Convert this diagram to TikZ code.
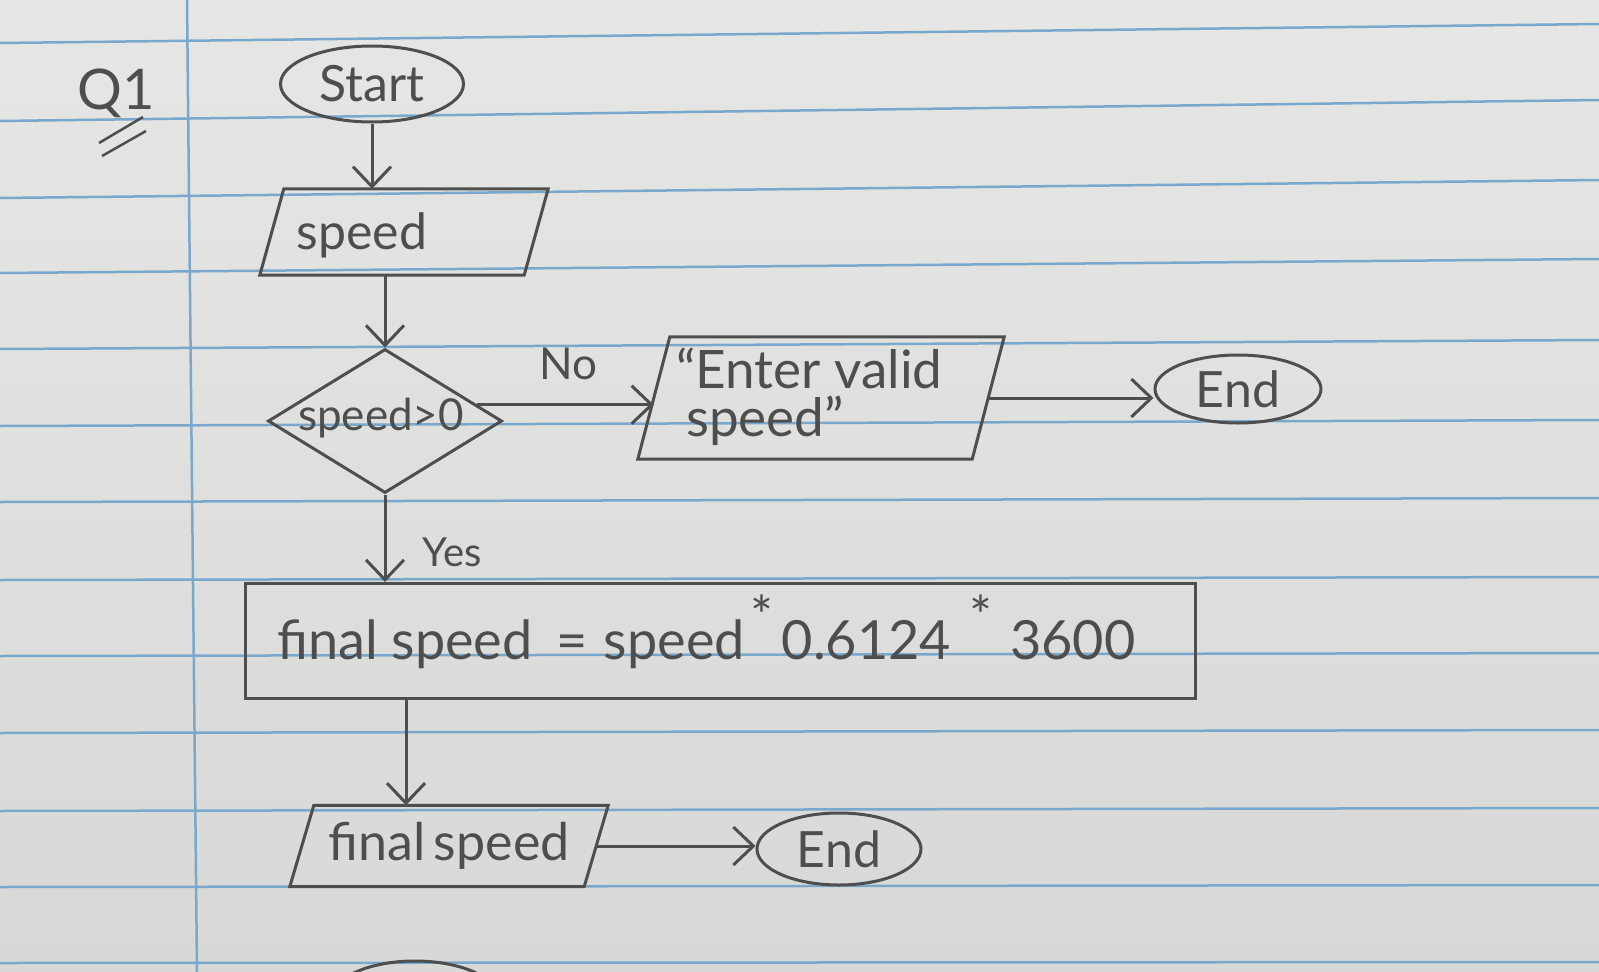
\documentclass[tikz,border=0pt]{standalone}
\usepackage{fontspec}
\setmainfont{Lato}
\usetikzlibrary{shapes.geometric,arrows.meta}
\definecolor{papertop}{RGB}{230,230,228}
\definecolor{paperbot}{RGB}{216,217,215}
\definecolor{rulecol}{RGB}{122,168,204}
\definecolor{pencil}{RGB}{78,78,78}
\newcommand{\hwsize}[1]{\fontsize{#1}{#1}\selectfont}
% slanted input/output outline drawn round a named box node
\newcommand{\drawpara}[2]{%
  \draw[ink] ([xshift=-#2]#1.south west) -- ([xshift=#2]#1.north west)
    -- ([xshift=#2]#1.north east) -- ([xshift=-#2]#1.south east) -- cycle;}
\tikzset{
  ink/.style={draw=pencil, line width=3pt},
  term/.style={ink, ellipse, inner sep=0pt, text=pencil},
  iobox/.style={rectangle, inner sep=0pt},
  proc/.style={ink, rectangle, inner sep=0pt},
  decis/.style={ink, diamond, inner sep=0pt},
  txt/.style={text=pencil, inner sep=0pt},
  flow/.style={ink, -{Straight Barb[length=20pt,width=38pt]}},
  ruled/.style={draw=rulecol, line width=2.5pt},
}
\begin{document}
\begin{tikzpicture}[x=1pt,y=-1pt]
\useasboundingbox (0,0) rectangle (1599,972);
\clip (0,0) rectangle (1599,972);
\shade[top color=papertop, bottom color=paperbot] (0,0) rectangle (1599,972);
% ruled paper
\foreach \l/\r in {43/24,121/100,198/180,273/259,349/340,426/420,502/498,580/577,656/653,733/730,811/808,887/885,963/962}
  \draw[ruled] (0,\l) -- (1599,\r);
\draw[ruled] (187,0) -- (197,972);
% question label
\node[txt, font=\hwsize{56}] (q) at (116,93) {Q1};
\draw[ink, line width=2.5pt] (99,143) -- (143,117);
\draw[ink, line width=2.5pt] (102,156) -- (146,131);
% shapes
\node[term, minimum width=183pt, minimum height=76pt] (start) at (372,84) {\hwsize{50}Start};
\node[iobox, minimum width=264pt, minimum height=86pt] (speed) at (404,232) {};
\drawpara{speed}{12pt}
\node[txt, font=\hwsize{50}] (speedtxt) at (362,235) {speed};
\node[decis, minimum width=234pt, minimum height=144pt] (dec) at (385,421) {};
\node[txt, font=\hwsize{44}] (dectxt) at (381,418) {speed>0};
\node[iobox, minimum width=334pt, minimum height=122pt] (enter) at (821,398) {};
\drawpara{enter}{16pt}
\node[txt, font=\hwsize{53}, align=left, anchor=west] (entertxt) at (676,397) {“Enter valid\\[-5pt]\hspace*{10pt}speed”};
\node[term, minimum width=166pt, minimum height=68pt] (end1) at (1238,389) {\hwsize{50}End};
\node[proc, minimum width=950pt, minimum height=115pt] (proc) at (720,641) {};
\node[txt, font=\hwsize{54}, anchor=west] (proctxt) at (277,632)
  {final speed\hspace{24pt}=\hspace{16pt}speed\hspace{6pt}\raisebox{0.45em}{*}\hspace{8pt}0.6124\hspace{18pt}\raisebox{0.45em}{*}\hspace{18pt}3600};
\node[iobox, minimum width=294pt, minimum height=81pt] (final) at (449,846) {};
\drawpara{final}{12pt}
\node[txt, font=\hwsize{52}] (finaltxt) at (449,846) {final\,speed};
\node[term, minimum width=164pt, minimum height=72pt] (end2) at (839,849) {\hwsize{50}End};
% partial shape at the bottom edge
\draw[ink] (415,1000) ellipse [x radius=85, y radius=39];
% connectors
\draw[flow] (start.south) -- (start.south |- speed.north);
\draw[flow] (dec.north |- speed.south) -- (dec.north);
\draw[flow] (dec.10) -- (dec.10 -| enter.west);
\node[txt, font=\hwsize{44}] (nolab) at (568,364) {No};
\draw[flow] (enter.east) -- (enter.east -| end1.west);
\draw[flow] (dec.south) -- (dec.south |- proc.north);
\node[txt, font=\hwsize{40}] (yeslab) at (452,552) {Yes};
\draw[flow] ([xshift=-43pt]final.north |- proc.south) -- ([xshift=-43pt]final.north);
\draw[flow] (final.east) -- (final.east -| end2.west);
\end{tikzpicture}
\end{document}
